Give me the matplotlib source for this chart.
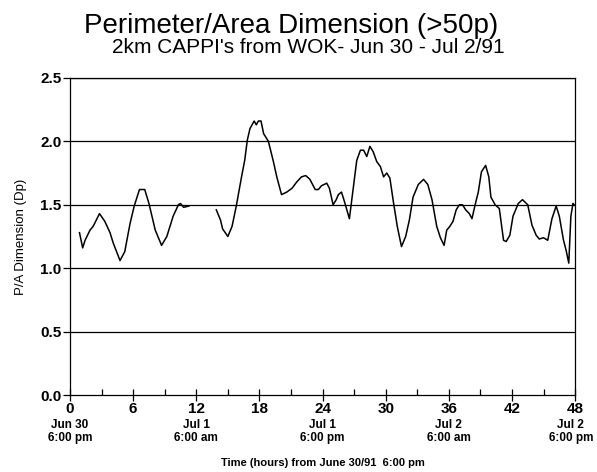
import numpy as np
import matplotlib
matplotlib.use("Agg")
import matplotlib.pyplot as plt
from matplotlib.ticker import MultipleLocator
from matplotlib.transforms import blended_transform_factory

plt.rcParams['font.family'] = ['Liberation Sans', 'DejaVu Sans']

# first segment (Jun 30 evening to Jul 1 morning)
hours_a = [0.9, 1.2, 1.43, 1.9, 2.2, 2.8, 3.3, 3.8, 4.1, 4.75, 5.2, 5.7, 6.1, 6.6,
           7.1, 7.5, 8.1, 8.7, 9.2, 9.8, 10.3, 10.5, 10.8, 11.3]
dp_a = [1.28, 1.16, 1.22, 1.30, 1.33, 1.43, 1.37, 1.28, 1.20, 1.06, 1.13, 1.35, 1.49, 1.62,
        1.62, 1.51, 1.30, 1.18, 1.25, 1.41, 1.50, 1.51, 1.48, 1.49]

# second segment (after the data gap)
hours_b = [13.9, 14.3, 14.5, 15.0, 15.4, 15.8, 16.3, 16.6, 16.85, 17.1, 17.5, 17.7, 17.9,
           18.15, 18.4, 18.85, 19.3, 19.65, 20.1, 20.6, 21.1, 21.55, 22.0, 22.4, 22.8,
           23.3, 23.6, 23.9, 24.4, 24.65, 25.0, 25.3, 25.5, 25.8, 26.1, 26.55, 26.9, 27.25,
           27.6, 27.9, 28.2, 28.5, 28.8, 29.15, 29.5, 29.8, 30.1, 30.4, 30.7, 31.1, 31.5,
           31.9, 32.25, 32.6, 33.1, 33.6, 34.0, 34.4, 34.85, 35.2, 35.55, 35.8, 36.1, 36.4,
           36.7, 37.0, 37.3, 37.6, 37.95, 38.2, 38.5, 38.8, 39.1, 39.5, 39.8, 40.0, 40.4,
           40.8, 41.2, 41.45, 41.8, 42.1, 42.6, 43.0, 43.5, 43.9, 44.3, 44.6, 45.0, 45.4,
           45.8, 46.2, 46.5, 46.9, 47.15, 47.4, 47.6, 47.8, 47.9]
dp_b = [1.46, 1.38, 1.31, 1.25, 1.33, 1.49, 1.72, 1.85, 2.01, 2.10, 2.16, 2.13, 2.16,
        2.16, 2.06, 2.00, 1.85, 1.72, 1.58, 1.60, 1.63, 1.68, 1.72, 1.73, 1.70,
        1.62, 1.62, 1.65, 1.67, 1.63, 1.50, 1.54, 1.58, 1.60, 1.52, 1.39, 1.62, 1.85,
        1.93, 1.93, 1.88, 1.96, 1.92, 1.84, 1.80, 1.72, 1.75, 1.71, 1.54, 1.33, 1.17,
        1.25, 1.38, 1.56, 1.66, 1.70, 1.66, 1.54, 1.33, 1.24, 1.18, 1.30, 1.33, 1.37,
        1.46, 1.50, 1.50, 1.46, 1.43, 1.39, 1.50, 1.60, 1.76, 1.81, 1.72, 1.56, 1.50,
        1.47, 1.22, 1.21, 1.26, 1.41, 1.51, 1.54, 1.50, 1.34, 1.26, 1.23, 1.24, 1.22,
        1.39, 1.49, 1.41, 1.22, 1.14, 1.04, 1.41, 1.51, 1.50]

x_ticks = [0, 6, 12, 18, 24, 30, 36, 42, 48]
y_ticks = [0.0, 0.5, 1.0, 1.5, 2.0, 2.5]
date_pos = [0, 12, 24, 36, 47.6]
date_labels = ["Jun 30\n6:00 pm", "Jul 1\n6:00 am", "Jul 1\n6:00 pm",
               "Jul 2\n6:00 am", "Jul 2\n6:00 pm"]

fig = plt.figure(figsize=(5.97, 4.72), dpi=100)
ax = fig.add_axes([0.1173, 0.163, 0.846, 0.672])

# grid lines drawn as plain horizontal rules
for yv in y_ticks[1:]:
    ax.axhline(yv, color='black', lw=0.9, zorder=1)

ax.plot(hours_a, dp_a, color='black', lw=1.1, zorder=2)
ax.plot(hours_b, dp_b, color='black', lw=1.1, zorder=2)

ax.set_xlim(0, 48)
ax.set_ylim(0, 2.5)
ax.set_xticks(x_ticks)
ax.set_yticks(y_ticks)
ax.set_yticklabels([f"{v:.1f}" for v in y_ticks])
ax.xaxis.set_minor_locator(MultipleLocator(3))
ax.tick_params(axis='x', which='major', direction='inout', length=8, width=0.9,
               labelsize=11, pad=1)
ax.tick_params(axis='x', which='minor', direction='in', length=4, width=0.9)
ax.tick_params(axis='y', which='major', direction='out', length=5, width=0.9,
               labelsize=11, pad=1)
for lab in ax.get_xticklabels() + ax.get_yticklabels():
    lab.set_fontweight('bold')

for sp in ax.spines.values():
    sp.set_linewidth(0.9)

trans = blended_transform_factory(ax.transData, ax.transAxes)
for xp, txt in zip(date_pos, date_labels):
    ax.text(xp, -0.075, txt, transform=trans, ha='center', va='top',
            fontsize=8.5, fontweight='bold', linespacing=1.1)

ax.set_xlabel("Time (hours) from June 30/91  6:00 pm", fontsize=8,
              fontweight='bold', labelpad=30)
ax.set_ylabel("P/A Dimension (Dp)", fontsize=9.5, labelpad=10)

fig.text(0.488, 0.945, "Perimeter/Area Dimension (>50p)", ha='center',
         va='center', fontsize=20)
fig.text(0.516, 0.9, "2km CAPPI's from WOK- Jun 30 - Jul 2/91", ha='center',
         va='center', fontsize=15)

fig.savefig("out.png", dpi=100)
